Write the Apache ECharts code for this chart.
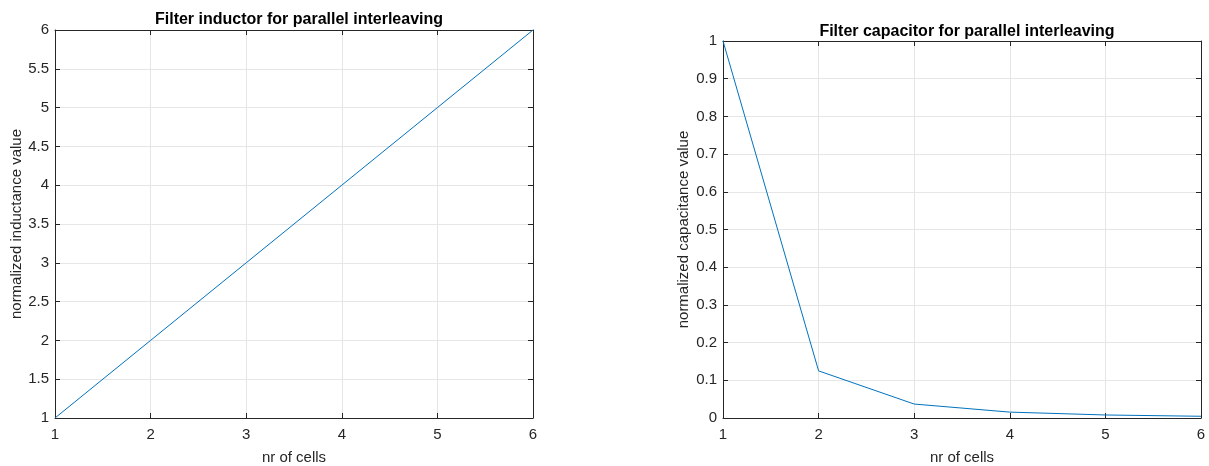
<!DOCTYPE html>
<html><head><meta charset="utf-8">
<script src="https://cdn.jsdelivr.net/npm/echarts@6/dist/echarts.min.js"></script>
<style>html,body{margin:0;padding:0;background:#fff}#c{width:1209px;height:466px}</style>
</head><body><div id="c"></div>
<script>
const cells = [1, 2, 3, 4, 5, 6];
const inductance = [1, 2, 3, 4, 5, 6];
const capacitance = [1, 0.125, 0.037, 0.0156, 0.008, 0.0046];
const titles = ['Filter inductor for parallel interleaving', 'Filter capacitor for parallel interleaving'];
const xName = 'nr of cells';
const yNames = ['normalized inductance value', 'normalized capacitance value'];

const chart = echarts.init(document.getElementById('c'));
const font = 'Arial, "Liberation Sans", Helvetica, sans-serif';
const grids = [
  {left: 55, top: 30, width: 478, height: 388, outerBoundsMode: 'none', containLabel: false},
  {left: 723, top: 41, width: 478, height: 377, outerBoundsMode: 'none', containLabel: false}
];
const tickC = '#262626';
function xAxes(i) {
  return [{
    gridIndex: i, type: 'value', min: 1, max: 6, interval: 1,
    name: xName, nameLocation: 'middle', nameGap: 32,
    nameTextStyle: {fontFamily: font, fontSize: 15, color: tickC},
    axisLine: {show: true, onZero: false, lineStyle: {color: tickC, width: 1}},
    axisTick: {show: true, inside: true, length: 5, lineStyle: {color: tickC}},
    axisLabel: {fontFamily: font, fontSize: 15, color: tickC, margin: 9},
    splitLine: {show: true, lineStyle: {color: '#e6e6e6', width: 1}}
  }, {
    gridIndex: i, type: 'value', min: 1, max: 6, interval: 1, position: 'top',
    axisLine: {show: true, onZero: false, lineStyle: {color: tickC, width: 1}},
    axisTick: {show: true, inside: true, length: 5, lineStyle: {color: tickC}},
    axisLabel: {show: false}, splitLine: {show: false}
  }];
}
function yAxes(i, min, max, interval) {
  return [{
    gridIndex: i, type: 'value', min: min, max: max, interval: interval,
    name: yNames[i], nameLocation: 'middle', nameGap: i === 0 ? 31 : 32, nameRotate: 90,
    nameMoveOverlap: false,
    nameTextStyle: {fontFamily: font, fontSize: 15, color: tickC},
    axisLine: {show: true, onZero: false, lineStyle: {color: tickC, width: 1}},
    axisTick: {show: true, inside: true, length: 5, lineStyle: {color: tickC}},
    axisLabel: {fontFamily: font, fontSize: 15, color: tickC, margin: 6},
    splitLine: {show: true, lineStyle: {color: '#e6e6e6', width: 1}}
  }, {
    gridIndex: i, type: 'value', min: min, max: max, interval: interval, position: 'right',
    axisLine: {show: true, onZero: false, lineStyle: {color: tickC, width: 1}},
    axisTick: {show: true, inside: true, length: 5, lineStyle: {color: tickC}},
    axisLabel: {show: false}, splitLine: {show: false}
  }];
}
chart.setOption({
  animation: false,
  title: [
    {text: titles[0], left: 294, top: 7, textAlign: 'center',
     textStyle: {fontFamily: font, fontSize: 16, fontWeight: 'bold', color: '#000'}},
    {text: titles[1], left: 962, top: 19, textAlign: 'center',
     textStyle: {fontFamily: font, fontSize: 16, fontWeight: 'bold', color: '#000'}}
  ],
  grid: grids,
  xAxis: [...xAxes(0), ...xAxes(1)],
  yAxis: [...yAxes(0, 1, 6, 0.5), ...yAxes(1, 0, 1, 0.1)],
  series: [
    {type: 'line', xAxisIndex: 0, yAxisIndex: 0, data: cells.map((c, k) => [c, inductance[k]]),
     showSymbol: false, lineStyle: {color: '#0072bd', width: 1}, itemStyle: {color: '#0072bd'}},
    {type: 'line', xAxisIndex: 2, yAxisIndex: 2, data: cells.map((c, k) => [c, capacitance[k]]),
     showSymbol: false, lineStyle: {color: '#0072bd', width: 1}, itemStyle: {color: '#0072bd'}}
  ]
});
</script></body></html>
